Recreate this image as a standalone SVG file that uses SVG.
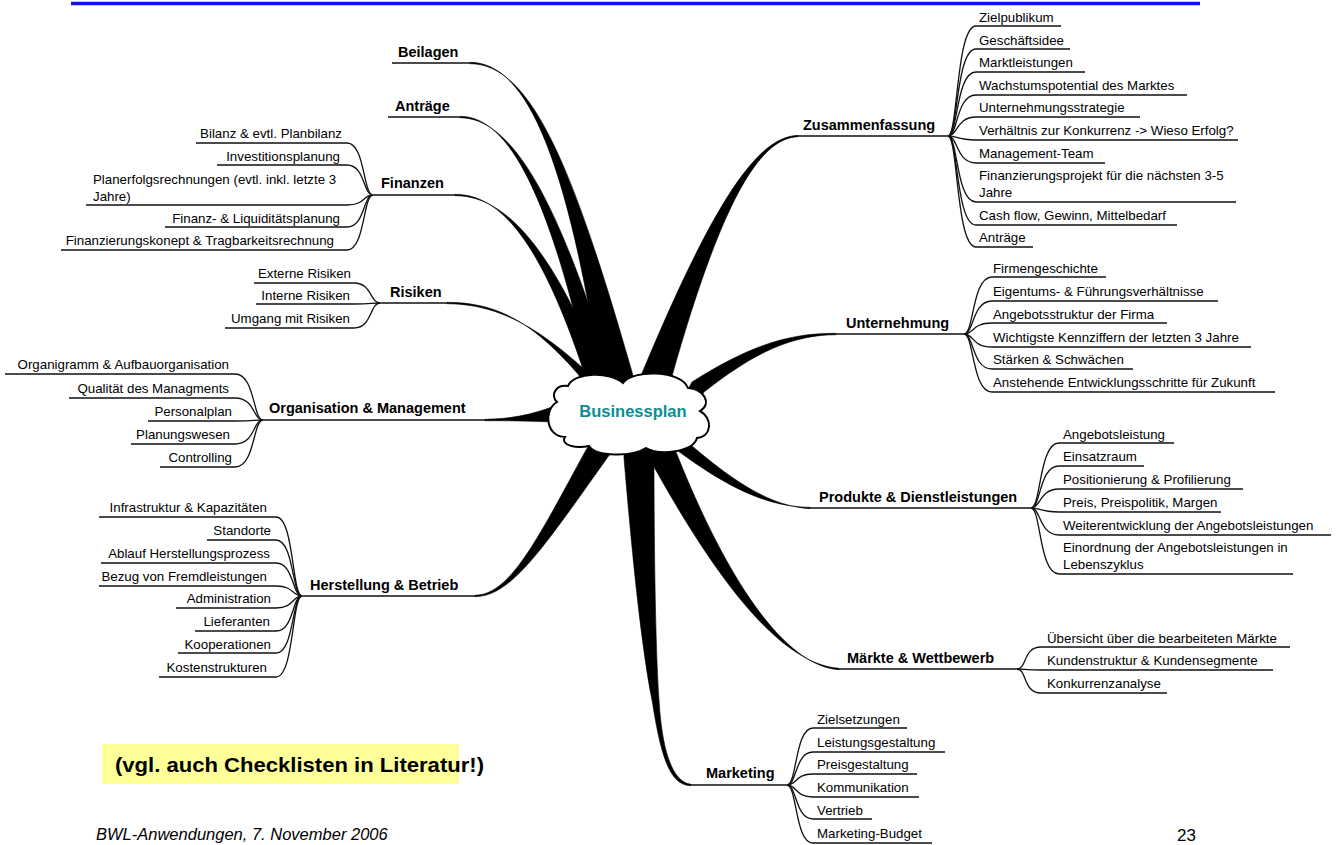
<svg xmlns="http://www.w3.org/2000/svg" width="1339" height="845" viewBox="0 0 1339 845">
<style>
.sub{font-family:"Liberation Sans",Arial,sans-serif;font-size:13.3px;fill:#000}
.end{text-anchor:end}
.main{font-family:"Liberation Sans",Arial,sans-serif;font-size:14.5px;font-weight:bold;fill:#000}
.ln{fill:none;stroke:#111;stroke-width:1.3}
.ml{fill:none;stroke:#111;stroke-width:1.6}
.br{fill:#000;stroke:#000;stroke-width:0.6}
</style>
<rect width="1339" height="845" fill="#fff"/>
<line x1="71" y1="3.5" x2="1200" y2="3.5" stroke="#1010ee" stroke-width="3.4"/>
<g id="connectors">
  <path class="br" d="M470 62.3 C530 62.3 568 170 600 372 L604 395 L638 395 L632 372 C574 170 532 63.7 470 63.7 Z"/>
  <path class="br" d="M460 116.3 C510 116.3 550 200 588 370 L592 392 L614 392 L610 370 C558 200 512 117.7 460 117.7 Z"/>
  <path class="br" d="M455 194.3 C500 194.3 540 240 584 372 L588 392 L606 392 L602 372 C548 240 502 195.7 455 195.7 Z"/>
  <path class="br" d="M447 302.3 C500 302.3 535 325 578 374 L592 395 L612 398 L596 380 C545 332 502 303.7 447 303.7 Z"/>
  <path class="br" d="M485 419.3 C510 419 530 415 552 407 L566 405 L566 423 L552 422 C530 421 510 420.7 485 420.7 Z"/>
  <path class="br" d="M475 595.3 C510 595 537 540 586 450 L594 438 L616 440 L610 454 C545 545 512 596.7 475 596.7 Z"/>
  <path class="br" d="M798 135.3 C760 137 718 190 640 378 L636 392 L668 392 L672 376 C724 192 762 138 798 136.7 Z"/>
  <path class="br" d="M836 333.3 C790 333 750 345 692 382 L685 395 L697 402 L704 392 C755 352 792 335 836 334.7 Z"/>
  <path class="br" d="M810 507.3 C770 507 730 490 674 448 L668 440 L688 436 L692 446 C738 485 772 506 810 508.7 Z"/>
  <path class="br" d="M839 668.3 C780 664 716 580 648 456 L644 440 L670 440 L676 452 C726 578 784 666 839 669.7 Z"/>
  <path class="br" d="M624 440 L624 458 C630 530 640 640 652 700 C660 750 668 785.7 691 785.7 L691 784.3 C672 782 662 750 659 700 C655 640 654 530 654 458 L654 440 Z"/>
  <path class="ml" d="M392 63 L470 63"/>
  <path class="ml" d="M388 117 L460 117"/>
  <path class="ml" d="M373 195 L455 195"/>
  <path class="ml" d="M380 303 L447 303"/>
  <path class="ml" d="M263 420 L485 420"/>
  <path class="ml" d="M302 596 L475 596"/>
  <path class="ml" d="M798 136 L948 136"/>
  <path class="ml" d="M836 334 L964 334"/>
  <path class="ml" d="M810 508 L1031 508"/>
  <path class="ml" d="M839 669 L1017 669"/>
  <path class="ml" d="M691 785 L787 785"/>
  <path class="ln" d="M948 136 C958 136 956 26 976 26 L1061 26"/>
  <path class="ln" d="M948 136 C958 136 956 49 976 49 L1070 49"/>
  <path class="ln" d="M948 136 C958 136 956 72 976 72 L1085 72"/>
  <path class="ln" d="M948 136 C958 136 956 95 976 95 L1187 95"/>
  <path class="ln" d="M948 136 C958 136 956 117 976 117 L1140 117"/>
  <path class="ln" d="M948 136 C958 136 956 140 976 140 L1238 140"/>
  <path class="ln" d="M948 136 C958 136 956 163 976 163 L1105 163"/>
  <path class="ln" d="M948 136 C958 136 956 202 976 202 L1236 202"/>
  <path class="ln" d="M948 136 C958 136 956 225 976 225 L1177 225"/>
  <path class="ln" d="M948 136 C958 136 956 247 976 247 L1033 247"/>
  <path class="ln" d="M964 334 C974 334 972 277 992 277 L1106 277"/>
  <path class="ln" d="M964 334 C974 334 972 301 992 301 L1218 301"/>
  <path class="ln" d="M964 334 C974 334 972 323 992 323 L1167 323"/>
  <path class="ln" d="M964 334 C974 334 972 347 992 347 L1251 347"/>
  <path class="ln" d="M964 334 C974 334 972 369 992 369 L1133 369"/>
  <path class="ln" d="M964 334 C974 334 972 392 992 392 L1275 392"/>
  <path class="ln" d="M1031 508 C1041 508 1039 443 1059 443 L1174 443"/>
  <path class="ln" d="M1031 508 C1041 508 1039 466 1059 466 L1144 466"/>
  <path class="ln" d="M1031 508 C1041 508 1039 489 1059 489 L1243 489"/>
  <path class="ln" d="M1031 508 C1041 508 1039 512 1059 512 L1221 512"/>
  <path class="ln" d="M1031 508 C1041 508 1039 535 1059 535 L1331 535"/>
  <path class="ln" d="M1031 508 C1041 508 1039 574 1059 574 L1293 574"/>
  <path class="ln" d="M1017 669 C1027 669 1023 647 1041 647 L1290 647"/>
  <path class="ln" d="M1017 669 C1027 669 1023 670 1041 670 L1273 670"/>
  <path class="ln" d="M1017 669 C1027 669 1023 693 1041 693 L1167 693"/>
  <path class="ln" d="M787 785 C797 785 795 728 813 728 L907 728"/>
  <path class="ln" d="M787 785 C797 785 795 752 813 752 L945 752"/>
  <path class="ln" d="M787 785 C797 785 795 774 813 774 L917 774"/>
  <path class="ln" d="M787 785 C797 785 795 797 813 797 L919 797"/>
  <path class="ln" d="M787 785 C797 785 795 819 813 819 L872 819"/>
  <path class="ln" d="M787 785 C797 785 795 843 813 843 L932 843"/>
  <path class="ln" d="M373 195 C363 195 365 143 347 143 L196 143"/>
  <path class="ln" d="M373 195 C363 195 365 165 347 165 L217 165"/>
  <path class="ln" d="M373 195 C363 195 365 205 347 205 L86 205"/>
  <path class="ln" d="M373 195 C363 195 365 227 347 227 L165 227"/>
  <path class="ln" d="M373 195 C363 195 365 250 347 250 L61 250"/>
  <path class="ln" d="M380 303 C370 303 372 283 354 283 L254 283"/>
  <path class="ln" d="M380 303 C370 303 372 304 354 304 L256 304"/>
  <path class="ln" d="M380 303 C370 303 372 328 354 328 L225 328"/>
  <path class="ln" d="M263 420 C253 420 255 374 235 374 L5 374"/>
  <path class="ln" d="M263 420 C253 420 255 398 235 398 L69 398"/>
  <path class="ln" d="M263 420 C253 420 255 421 235 421 L148 421"/>
  <path class="ln" d="M263 420 C253 420 255 444 235 444 L131 444"/>
  <path class="ln" d="M263 420 C253 420 255 467 235 467 L160 467"/>
  <path class="ln" d="M302 596 C292 596 294 517 276 517 L99 517"/>
  <path class="ln" d="M302 596 C292 596 294 540 276 540 L207 540"/>
  <path class="ln" d="M302 596 C292 596 294 563 276 563 L101 563"/>
  <path class="ln" d="M302 596 C292 596 294 586 276 586 L99 586"/>
  <path class="ln" d="M302 596 C292 596 294 608 276 608 L176 608"/>
  <path class="ln" d="M302 596 C292 596 294 631 276 631 L195 631"/>
  <path class="ln" d="M302 596 C292 596 294 653 276 653 L178 653"/>
  <path class="ln" d="M302 596 C292 596 294 677 276 677 L159 677"/>
</g>
<g id="center">
  <path d="M557 402 C550 395 556 384 568 386 C574 372 610 371 623 383 C633 369 681 370 688 388 C703 389 713 403 700 411 C713 418 712 437 697 438 C693 452 660 456 646 448 C632 457 596 457 589 446 C576 449 560 445 565 437 C546 437 543 410 557 402 Z" fill="#fff" stroke="#000" stroke-width="2"/>
  <text x="633" y="417" text-anchor="middle" font-family="Liberation Sans, Arial, sans-serif" font-size="16.5" font-weight="bold" fill="#0a8f8f">Businessplan</text>
</g>
<g id="beilagen"><text class="main" x="398" y="57">Beilagen</text></g>
<g id="antraege"><text class="main" x="395" y="111">Anträge</text></g>
<g id="finanzen">
  <text class="main" x="381" y="188">Finanzen</text>
  <text class="sub end" x="342" y="138">Bilanz &amp; evtl. Planbilanz</text>
  <text class="sub end" x="340" y="161">Investitionsplanung</text>
  <text class="sub" x="93" y="184">Planerfolgsrechnungen (evtl. inkl. letzte 3<tspan x="93" dy="16.5">Jahre)</tspan></text>
  <text class="sub end" x="340" y="223">Finanz- &amp; Liquiditätsplanung</text>
  <text class="sub end" x="334" y="245">Finanzierungskonept &amp; Tragbarkeitsrechnung</text>
</g>
<g id="risiken">
  <text class="main" x="390" y="297">Risiken</text>
  <text class="sub end" x="351" y="278">Externe Risiken</text>
  <text class="sub end" x="350" y="300">Interne Risiken</text>
  <text class="sub end" x="350" y="323">Umgang mit Risiken</text>
</g>
<g id="organisation">
  <text class="main" x="269" y="413">Organisation &amp; Management</text>
  <text class="sub end" x="229" y="369">Organigramm &amp; Aufbauorganisation</text>
  <text class="sub end" x="229" y="393">Qualität des Managments</text>
  <text class="sub end" x="232" y="416">Personalplan</text>
  <text class="sub end" x="230" y="439">Planungswesen</text>
  <text class="sub end" x="232" y="462">Controlling</text>
</g>
<g id="herstellung">
  <text class="main" x="310" y="590">Herstellung &amp; Betrieb</text>
  <text class="sub end" x="267" y="512">Infrastruktur &amp; Kapazitäten</text>
  <text class="sub end" x="271" y="535">Standorte</text>
  <text class="sub end" x="270" y="558">Ablauf Herstellungsprozess</text>
  <text class="sub end" x="267" y="581">Bezug von Fremdleistungen</text>
  <text class="sub end" x="271" y="603">Administration</text>
  <text class="sub end" x="270" y="626">Lieferanten</text>
  <text class="sub end" x="271" y="649">Kooperationen</text>
  <text class="sub end" x="267" y="672">Kostenstrukturen</text>
</g>
<g id="zusammenfassung">
  <text class="main" x="803" y="130">Zusammenfassung</text>
  <text class="sub" x="979" y="22">Zielpublikum</text>
  <text class="sub" x="979" y="45">Geschäftsidee</text>
  <text class="sub" x="979" y="67">Marktleistungen</text>
  <text class="sub" x="979" y="90">Wachstumspotential des Marktes</text>
  <text class="sub" x="979" y="112">Unternehmungsstrategie</text>
  <text class="sub" x="979" y="135">Verhältnis zur Konkurrenz -&gt; Wieso Erfolg?</text>
  <text class="sub" x="979" y="158">Management-Team</text>
  <text class="sub" x="979" y="180">Finanzierungsprojekt für die nächsten 3-5<tspan x="979" dy="17">Jahre</tspan></text>
  <text class="sub" x="979" y="220">Cash flow, Gewinn, Mittelbedarf</text>
  <text class="sub" x="979" y="242">Anträge</text>
</g>
<g id="unternehmung">
  <text class="main" x="846" y="328">Unternehmung</text>
  <text class="sub" x="993" y="273">Firmengeschichte</text>
  <text class="sub" x="993" y="296">Eigentums- &amp; Führungsverhältnisse</text>
  <text class="sub" x="993" y="319">Angebotsstruktur der Firma</text>
  <text class="sub" x="993" y="342">Wichtigste Kennziffern der letzten 3 Jahre</text>
  <text class="sub" x="993" y="364">Stärken &amp; Schwächen</text>
  <text class="sub" x="993" y="387">Anstehende Entwicklungsschritte für Zukunft</text>
</g>
<g id="produkte">
  <text class="main" x="819" y="502">Produkte &amp; Dienstleistungen</text>
  <text class="sub" x="1063" y="439">Angebotsleistung</text>
  <text class="sub" x="1063" y="461">Einsatzraum</text>
  <text class="sub" x="1063" y="484">Positionierung &amp; Profilierung</text>
  <text class="sub" x="1063" y="507">Preis, Preispolitik, Margen</text>
  <text class="sub" x="1063" y="530">Weiterentwicklung der Angebotsleistungen</text>
  <text class="sub" x="1063" y="552">Einordnung der Angebotsleistungen in<tspan x="1063" dy="16.5">Lebenszyklus</tspan></text>
</g>
<g id="maerkte">
  <text class="main" x="847" y="663">Märkte &amp; Wettbewerb</text>
  <text class="sub" x="1047" y="643">Übersicht über die bearbeiteten Märkte</text>
  <text class="sub" x="1047" y="665">Kundenstruktur &amp; Kundensegmente</text>
  <text class="sub" x="1047" y="688">Konkurrenzanalyse</text>
</g>
<g id="marketing">
  <text class="main" x="706" y="778">Marketing</text>
  <text class="sub" x="817" y="724">Zielsetzungen</text>
  <text class="sub" x="817" y="747">Leistungsgestaltung</text>
  <text class="sub" x="817" y="769">Preisgestaltung</text>
  <text class="sub" x="817" y="792">Kommunikation</text>
  <text class="sub" x="817" y="815">Vertrieb</text>
  <text class="sub" x="817" y="838">Marketing-Budget</text>
</g>
<g id="note">
  <rect x="102" y="744" width="357" height="40" fill="#ffff99"/>
  <text x="115" y="772" font-family="Liberation Sans, Arial, sans-serif" font-size="21" font-weight="bold" fill="#000" textLength="369" lengthAdjust="spacingAndGlyphs">(vgl. auch Checklisten in Literatur!)</text>
</g>
<g id="footer">
  <text x="96" y="840" font-family="Liberation Sans, Arial, sans-serif" font-size="16.5" font-style="italic" fill="#000">BWL-Anwendungen, 7. November 2006</text>
  <text x="1177" y="841" font-family="Liberation Sans, Arial, sans-serif" font-size="17" fill="#000">23</text>
</g>
</svg>
